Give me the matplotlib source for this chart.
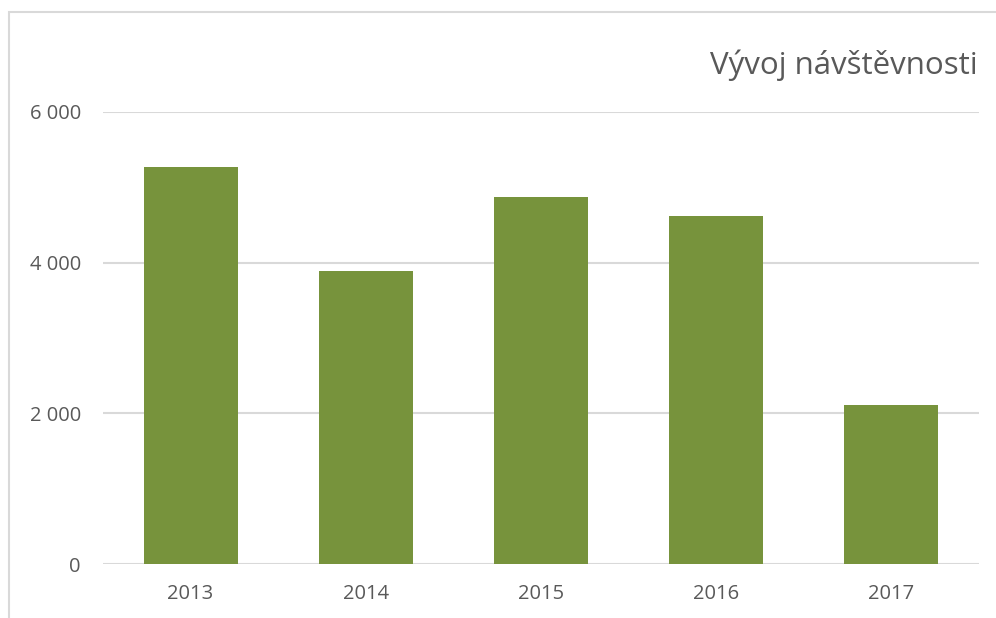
import matplotlib

matplotlib.use("Agg")
import matplotlib.pyplot as plt
from matplotlib.patches import Rectangle
from matplotlib.ticker import FuncFormatter

# data
years = ["2013", "2014", "2015", "2016", "2017"]
visits = [5265, 3890, 4865, 4620, 2112]
yticks = [0, 2000, 4000, 6000]

BAR = "#77933C"
GRID = "#D9D9D9"
TEXT = "#595959"
W, H = 996, 618

plt.rcParams["font.family"] = ["Open Sans", "DejaVu Sans"]

fig = plt.figure(figsize=(W / 100, H / 100), dpi=100)

# outer chart border (cut off on right/bottom like the original)
fig.patches.append(Rectangle((8.5 / W, -0.1), 1.2, 1.1 - 12.5 / H,
                             transform=fig.transFigure, fill=False,
                             edgecolor=GRID, lw=1.5))

ax = fig.add_axes([103 / W, (H - 564.3) / H, (979 - 103) / W, (564.3 - 111.7) / H])
x = range(len(years))
ax.bar(x, visits, width=0.537, color=BAR, zorder=3)

ax.set_xlim(-0.5, len(years) - 0.5)
ax.set_ylim(0, 6000)
ax.set_yticks(yticks)
ax.yaxis.set_major_formatter(FuncFormatter(lambda v, p: f"{int(v):,}".replace(",", " ")))
ax.set_xticks(list(x))
ax.set_xticklabels(years)
ax.grid(axis="y", color=GRID, lw=1.5, zorder=0)
for s in ax.spines.values():
    s.set_visible(False)
ax.tick_params(length=0, labelsize=14.5, labelcolor=TEXT)
ax.tick_params(axis="y", pad=16)
ax.tick_params(axis="x", pad=14)

fig.text(978 / W, 1 - 74 / H, "Vývoj návštěvnosti", ha="right", va="baseline",
         fontsize=22.5, color=TEXT)

fig.savefig("out.png", dpi=100)
